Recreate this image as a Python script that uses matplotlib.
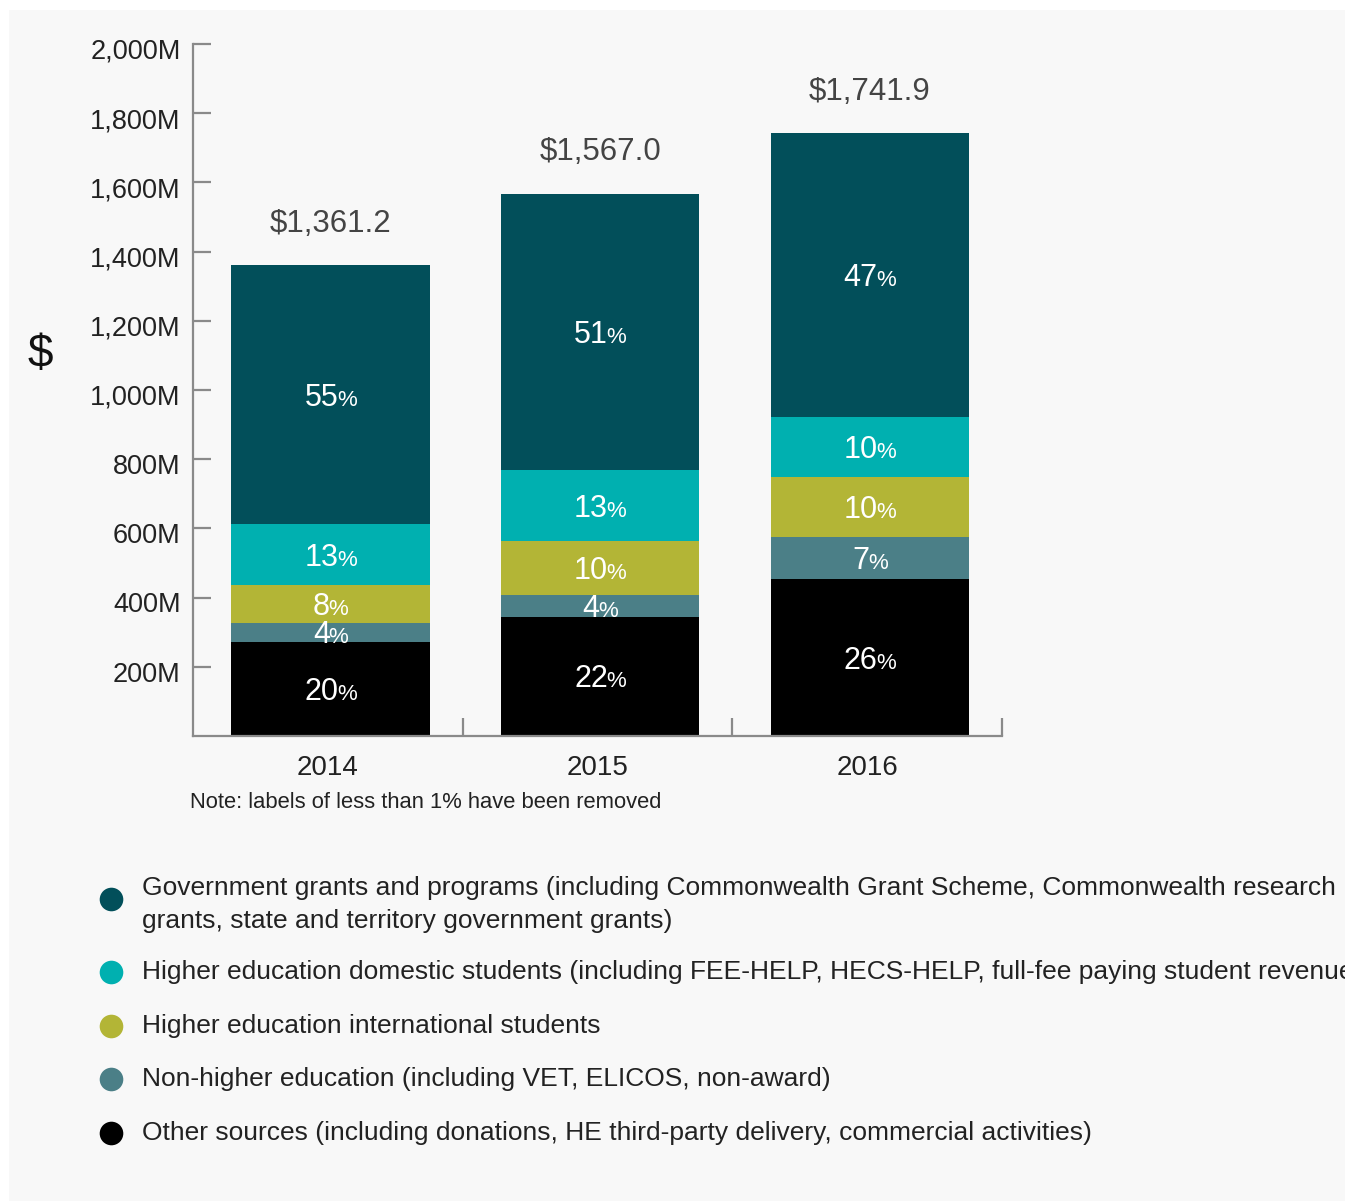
import matplotlib
matplotlib.use("Agg")
import matplotlib.pyplot as plt
from matplotlib.patches import Rectangle
import matplotlib.transforms as mtransforms
import numpy as np

plt.rcParams["font.family"] = ["Liberation Sans", "DejaVu Sans"]

# ---- data -------------------------------------------------------------
years = ["2014", "2015", "2016"]
totals = [1361.2, 1567.0, 1741.9]          # $M
# share of each year's revenue, bottom segment first
pct_other = [20, 22, 26]
pct_nonhe = [4, 4, 7]
pct_intl = [8, 10, 10]
pct_domestic = [13, 13, 10]
pct_gov = [55, 51, 47]

series_names = [
    "Other sources (including donations, HE third-party delivery, commercial activities)",
    "Non-higher education (including VET, ELICOS, non-award)",
    "Higher education international students",
    "Higher education domestic students (including FEE-HELP, HECS-HELP, full-fee paying student revenue)",
    "Government grants and programs (including Commonwealth Grant Scheme, Commonwealth research\ngrants, state and territory government grants)",
]
series_pcts = [pct_other, pct_nonhe, pct_intl, pct_domestic, pct_gov]
series_colors = ["#000000", "#4b7f87", "#b3b536", "#00b0b0", "#024f5a"]

ytick_vals = [200, 400, 600, 800, 1000, 1200, 1400, 1600, 1800, 2000]
ytick_labels = ["200M", "400M", "600M", "800M", "1,000M", "1,200M",
                "1,400M", "1,600M", "1,800M", "2,000M"]

# ---- figure -----------------------------------------------------------
W, H = 1345, 1201
fig = plt.figure(figsize=(W / 100, H / 100), dpi=100)
fig.patch.set_facecolor("white")
fig.patches.append(Rectangle((9 / W, 0), 1 - 9 / W, 1 - 10 / H,
                             transform=fig.transFigure, facecolor="#f8f8f8",
                             edgecolor="none", zorder=-10))

ax_l, ax_r, ax_t, ax_b = 193, 1002, 44, 736
ax = fig.add_axes([ax_l / W, 1 - ax_b / H, (ax_r - ax_l) / W, (ax_b - ax_t) / H])
ax.set_facecolor("none")
ax.set_xlim(0, 3)
ax.set_ylim(0, 2000)

axis_gray = "#8a8a8a"
for side in ["top", "right"]:
    ax.spines[side].set_visible(False)
for side in ["left", "bottom"]:
    ax.spines[side].set_color(axis_gray)
    ax.spines[side].set_linewidth(1.6)

# stacked bars, set a touch right of each group's centre
x = np.arange(len(years)) + 0.5
bar_x = x + 0.01
bar_w = 0.735
pct_pairs = []
bottoms = np.zeros(len(years))
for pcts, color in zip(series_pcts, series_colors):
    heights = np.array(pcts) / 100.0 * np.array(totals)
    ax.bar(bar_x, heights, bottom=bottoms, width=bar_w, color=color,
           edgecolor="none", zorder=2)
    centers = bottoms + heights / 2
    for xi, yc, p in zip(bar_x, centers, pcts):
        num = ax.annotate(str(p), (xi, yc), xytext=(0, -8),
                          textcoords="offset points", ha="right",
                          va="baseline", color="white", fontsize=22,
                          zorder=3)
        sign = ax.annotate("%", (xi, yc), xytext=(0, -8),
                           textcoords="offset points", ha="left",
                           va="baseline", color="white", fontsize=16,
                           zorder=3)
        pct_pairs.append((num, sign))
    bottoms = bottoms + heights

# totals above bars
for xi, t in zip(bar_x, totals):
    ax.annotate(f"${t:,.1f}", (xi, t), xytext=(0, 24), textcoords="offset points",
                ha="center", va="baseline", color="#444444", fontsize=22.5)

# y axis ticks pointing inward
ax.set_yticks(ytick_vals)
ax.set_yticklabels(ytick_labels)
ax.tick_params(axis="y", direction="in", length=13, width=1.6, color=axis_gray,
               labelsize=19.5, labelcolor="#222222", pad=9)
drop = mtransforms.ScaledTranslation(0, -3.5 / 72, fig.dpi_scale_trans)
for lab in ax.get_yticklabels():
    lab.set_transform(lab.get_transform() + drop)

# x axis: category labels centred, separator ticks at group edges
ax.set_xticks(x)
ax.set_xticklabels(years)
ax.tick_params(axis="x", which="major", length=0, labelsize=20,
               labelcolor="#222222", pad=14)
ax.set_xticks([1, 2, 3], minor=True)
ax.tick_params(axis="x", which="minor", direction="in", length=13, width=1.6,
               color=axis_gray)

# centre each "number + %" pair inside its segment
fig.canvas.draw()
renderer = fig.canvas.get_renderer()
gap_pt = -1.0
for n, s in pct_pairs:
    wn = n.get_window_extent(renderer).width * 72 / fig.dpi
    ws = s.get_window_extent(renderer).width * 72 / fig.dpi
    total_w = wn + ws + gap_pt
    junction = wn - total_w / 2
    n.xyann = (junction, n.xyann[1])
    s.xyann = (junction + gap_pt, s.xyann[1])

# axis title and footnote
fig.text(40 / W, 1 - 355 / H, "$", fontsize=33, color="#111111",
         ha="center", va="center")
fig.text(190 / W, 1 - 802 / H, "Note: labels of less than 1% have been removed",
         fontsize=15.8, color="#222222", ha="left", va="center")

# legend: marker centre y and first text line centre y (pixels from top)
legend_rows = [
    (4, 899, 887),
    (3, 972, 972),
    (2, 1026, 1026),
    (1, 1079, 1079),
    (0, 1133, 1133),
]
for idx, cy, ty in legend_rows:
    fig.lines.append(plt.Line2D([111 / W], [1 - cy / H], marker="o",
                                markersize=17, color=series_colors[idx],
                                markeredgewidth=0, transform=fig.transFigure))
    name = series_names[idx]
    if "\n" in name:
        fig.text(142 / W, 1 - (ty - 11) / H, name, fontsize=19,
                 color="#222222", ha="left", va="top", linespacing=1.45)
    else:
        fig.text(142 / W, 1 - ty / H, name, fontsize=19, color="#222222",
                 ha="left", va="center")

fig.savefig("out.png", dpi=100, facecolor=fig.get_facecolor())
